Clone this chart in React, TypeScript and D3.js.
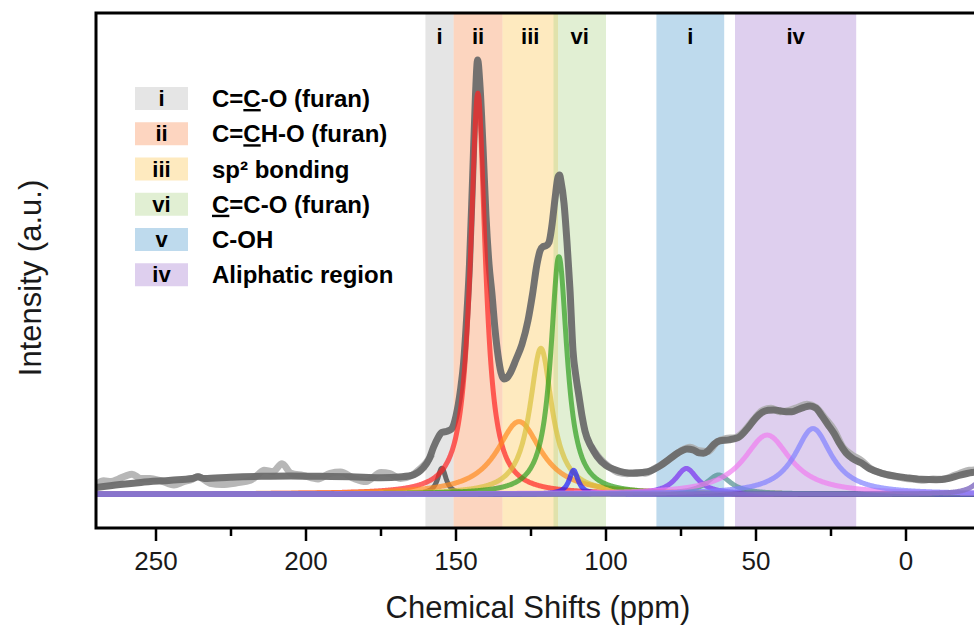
import React, { useEffect, useRef } from 'react';
import * as d3 from 'd3';

// axis ticks (ppm)
const xTicks = [250, 200, 150, 100, 50, 0];
const xMinorTicks = [225, 175, 125, 75, 25, -25];

// shaded assignment bands
const bandLabels = ['i', 'ii', 'iii', 'vi', 'i', 'iv'];
const bandFrom = [160.2, 150.8, 134.5, 117.5, 83.2, 57];
const bandTo = [150.8, 134.5, 116, 100, 60.6, 16.6];
const bandColors = ['#bebebe', '#f8965f', '#fcca5f', '#b4d791', '#5ca2d2', '#ac87d4'];

// legend
const legendKeys = ['i', 'ii', 'iii', 'vi', 'v', 'iv'];
const legendNames = ['C=C-O (furan)', 'C=CH-O (furan)', 'sp² bonding', 'C=C-O (furan)', 'C-OH', 'Aliphatic region'];
const legendUnderline = [2, 2, -1, 0, -1, -1];
const legendColors = ['#e5e5e5', '#fdd5c0', '#feeabf', '#e1efd3', '#bedaed', '#decfee'];

// fitted components (Lorentzian): centre ppm, height, half width
const peakCenter = [154.7, 142.7, 129, 121.7, 115.7, 110.8, 73.2, 62.5, 46.3, 31, -26];
const peakHeight = [0.06, 0.924, 0.167, 0.336, 0.547, 0.055, 0.059, 0.044, 0.136, 0.151, 0.035];
const peakHwhm = [1.7, 3, 9, 4.5, 3.3, 1.8, 4.5, 5, 9.5, 7.5, 4];
const peakColors = ['#333333', '#ff2222', '#ff8a1e', '#d8c03a', '#2e9e1e', '#1a1aff', '#7b2cf0', '#4f8f8f', '#f07cf0', '#8080ff', '#8672c4'];

// cumulative fit curve
const envPpm = [270, 262, 255, 245, 238, 236, 234, 225, 215, 205, 195, 185, 175, 168, 164, 161, 159, 157.5, 156, 154.7, 153, 151.5, 150, 148.5, 147.5, 146.5, 145.5, 144.5, 143.5, 142.8, 142, 141, 140, 139, 138, 137, 136, 135, 134, 133, 132, 130, 128, 126, 124.5, 123, 122, 121, 120, 119, 118, 117, 116, 115.5, 115, 114, 113, 112, 111, 110, 109, 108, 107, 105, 103, 100, 97, 94, 91, 88, 85, 82, 79, 76, 73, 71, 69, 67.5, 66, 64, 62, 59, 56, 53, 50, 48, 46, 44, 42, 40, 38, 36, 34, 32, 30, 28, 26, 24, 22, 20, 18, 15, 12, 8, 4, 0, -5, -10, -14, -18, -22, -26, -30];
const envInt = [0.015, 0.022, 0.027, 0.032, 0.036, 0.04, 0.036, 0.039, 0.041, 0.042, 0.041, 0.04, 0.038, 0.04, 0.045, 0.06, 0.08, 0.108, 0.13, 0.142, 0.145, 0.15, 0.18, 0.24, 0.3, 0.4, 0.53, 0.72, 0.92, 1.0, 0.94, 0.8, 0.64, 0.53, 0.46, 0.38, 0.32, 0.28, 0.265, 0.268, 0.278, 0.31, 0.345, 0.4, 0.46, 0.53, 0.56, 0.57, 0.572, 0.58, 0.62, 0.68, 0.73, 0.735, 0.72, 0.67, 0.58, 0.47, 0.33, 0.27, 0.225, 0.18, 0.145, 0.11, 0.087, 0.066, 0.056, 0.05, 0.048, 0.05, 0.054, 0.065, 0.08, 0.095, 0.104, 0.102, 0.095, 0.094, 0.1, 0.115, 0.123, 0.125, 0.13, 0.15, 0.176, 0.188, 0.193, 0.194, 0.192, 0.19, 0.19, 0.195, 0.2, 0.203, 0.198, 0.18, 0.16, 0.14, 0.115, 0.095, 0.083, 0.072, 0.058, 0.048, 0.042, 0.038, 0.034, 0.033, 0.036, 0.044, 0.05, 0.052, 0.045];

// raw spectrum (noisy), gap where it hides behind the fit
const rawPpm = [270, 267.5, 265, 262.5, 260, 258, 255, 252, 248.5, 244, 241, 238, 236, 232, 228, 223, 218.5, 216, 214, 211, 208, 205, 201, 196, 192, 188.5, 184, 180, 175, 172, 168.5, 165, 162, 160, 158, 130, 105, 102, 99, 96, 93, 90, 87, 84, 81, 78, 75, 72, 69, 66, 63, 60, 57, 54, 51, 48, 45, 42, 39, 36, 33, 30, 27, 24, 21, 18, 15, 12, 9, 6, 3, 0, -3, -6, -9, -12, -15, -18, -21, -24, -27, -30];
const rawInt = [0.022, 0.031, 0.029, 0.035, 0.042, 0.046, 0.036, 0.036, 0.031, 0.021, 0.028, 0.034, 0.04, 0.025, 0.022, 0.026, 0.032, 0.045, 0.055, 0.052, 0.07, 0.048, 0.043, 0.035, 0.048, 0.051, 0.036, 0.029, 0.05, 0.047, 0.036, 0.042, 0.058, 0.072, 0.092, NaN, 0.11, 0.082, 0.063, 0.05, 0.047, 0.05, 0.048, 0.058, 0.07, 0.085, 0.1, 0.108, 0.1, 0.098, 0.12, 0.128, 0.13, 0.145, 0.17, 0.192, 0.198, 0.19, 0.193, 0.2, 0.207, 0.2, 0.175, 0.148, 0.108, 0.09, 0.078, 0.06, 0.05, 0.044, 0.04, 0.036, 0.034, 0.032, 0.035, 0.034, 0.04, 0.048, 0.055, 0.056, 0.05, 0.044];

const W = 974;
const H = 630;
const left = 96;
const top = 13;
const bottom = 528;

function App() {
  const svgRef = useRef<SVGSVGElement>(null);

  useEffect(() => {
    const svg = d3.select(svgRef.current);
    svg.selectAll('*').remove();

    const x = d3.scaleLinear().domain([270, -30]).range([left, left + 900]);
    const y = d3.scaleLinear().domain([-0.078, 1.108]).range([bottom, top]);

    svg.append('defs').append('clipPath').attr('id', 'plot')
      .append('rect').attr('x', left).attr('y', top).attr('width', W - left).attr('height', bottom - top);

    const plot = svg.append('g').attr('clip-path', 'url(#plot)');

    // bands
    plot.selectAll('.band')
      .data(bandLabels)
      .enter()
      .append('rect')
      .attr('x', (d, i) => x(bandFrom[i]))
      .attr('width', (d, i) => x(bandTo[i]) - x(bandFrom[i]))
      .attr('y', top)
      .attr('height', bottom - top)
      .attr('fill', (d, i) => bandColors[i])
      .attr('fill-opacity', 0.4);

    const line = d3.line<[number, number]>()
      .defined(d => !isNaN(d[1]))
      .x(d => x(d[0]))
      .y(d => y(d[1]))
      .curve(d3.curveMonotoneX);

    plot.append('path')
      .attr('d', line(rawPpm.map((p, i) => [p, rawInt[i]])))
      .attr('fill', 'none')
      .attr('stroke', '#aaaaaa')
      .attr('stroke-opacity', 0.85)
      .attr('stroke-width', 7)
      .attr('stroke-linejoin', 'round');

    plot.append('path')
      .attr('d', line(envPpm.map((p, i) => [p, envInt[i]])))
      .attr('fill', 'none')
      .attr('stroke', '#6b6b6b')
      .attr('stroke-opacity', 0.95)
      .attr('stroke-width', 7)
      .attr('stroke-linejoin', 'round');

    // fitted components
    const grid = d3.range(270, -30.01, -0.2);
    peakCenter.forEach((c, k) => {
      const pts: [number, number][] = grid.map(p => {
        const u = (p - c) / peakHwhm[k];
        return [p, peakHeight[k] / (1 + u * u)];
      });
      plot.append('path')
        .attr('d', line(pts))
        .attr('fill', 'none')
        .attr('stroke', peakColors[k])
        .attr('stroke-opacity', k === peakCenter.length - 1 ? 0.85 : 0.7)
        .attr('stroke-width', 5)
        .attr('stroke-linejoin', 'round');
    });

    // frame
    svg.append('path')
      .attr('d', `M${W + 5},${top} H${left} V${bottom} H${W + 5}`)
      .attr('fill', 'none')
      .attr('stroke', '#000')
      .attr('stroke-width', 3);

    svg.selectAll('.major')
      .data(xTicks)
      .enter()
      .append('line')
      .attr('x1', d => x(d)).attr('x2', d => x(d))
      .attr('y1', bottom).attr('y2', bottom + 13)
      .attr('stroke', '#000').attr('stroke-width', 2.5);

    svg.selectAll('.minor')
      .data(xMinorTicks)
      .enter()
      .append('line')
      .attr('x1', d => x(d)).attr('x2', d => x(d))
      .attr('y1', bottom).attr('y2', bottom + 8)
      .attr('stroke', '#000').attr('stroke-width', 2.5);

    svg.selectAll('.tickLabel')
      .data(xTicks)
      .enter()
      .append('text')
      .attr('x', d => x(d))
      .attr('y', 570)
      .attr('text-anchor', 'middle')
      .attr('font-size', 26)
      .attr('fill', '#1a1a1a')
      .text(d => d);

    svg.append('text')
      .attr('x', 538)
      .attr('y', 618)
      .attr('text-anchor', 'middle')
      .attr('font-size', 31)
      .attr('fill', '#1a1a1a')
      .text('Chemical Shifts (ppm)');

    svg.append('text')
      .attr('transform', 'translate(41,278) rotate(-90)')
      .attr('text-anchor', 'middle')
      .attr('font-size', 31)
      .attr('fill', '#1a1a1a')
      .text('Intensity (a.u.)');

    // band labels
    svg.selectAll('.bandLabel')
      .data(bandLabels)
      .enter()
      .append('text')
      .attr('x', (d, i) => (x(bandFrom[i]) + x(bandTo[i])) / 2)
      .attr('y', 44)
      .attr('text-anchor', 'middle')
      .attr('font-size', 22)
      .attr('font-weight', 'bold')
      .text(d => d);

    // legend
    const rows = svg.selectAll('.legend')
      .data(legendKeys)
      .enter()
      .append('g')
      .attr('transform', (d, i) => `translate(0,${98.5 + i * 35.25})`);

    rows.append('rect')
      .attr('x', 135).attr('y', -11.5)
      .attr('width', 53).attr('height', 23)
      .attr('fill', (d, i) => legendColors[i]);

    rows.append('text')
      .attr('x', 161.5).attr('y', 7.5)
      .attr('text-anchor', 'middle')
      .attr('font-size', 22)
      .attr('font-weight', 'bold')
      .text(d => d);

    rows.each(function (d, i) {
      const t = d3.select(this).append('text')
        .attr('x', 212).attr('y', 8.5)
        .attr('font-size', 24)
        .attr('font-weight', 'bold');
      const name = legendNames[i];
      const u = legendUnderline[i];
      if (u < 0) {
        t.text(name);
      } else {
        t.append('tspan').text(name.slice(0, u));
        t.append('tspan').attr('text-decoration', 'underline').text(name[u]);
        t.append('tspan').text(name.slice(u + 1));
      }
    });
  }, []);

  return (
    <svg
      ref={svgRef}
      width={W}
      height={H}
      style={{ position: 'absolute', left: 0, top: 0, background: '#fff', fontFamily: '"Liberation Sans", Arial, sans-serif' }}
    />
  );
}

export default App;
